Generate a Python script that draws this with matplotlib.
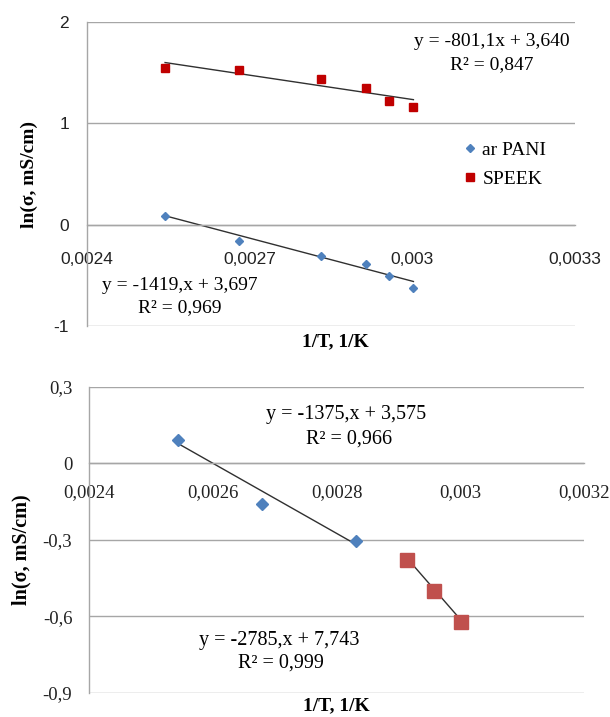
import matplotlib
matplotlib.use("Agg")
import matplotlib.pyplot as plt
import numpy as np

# Reciprocal temperature, 1/K (120, 100, 80, 70, 65, 60 °C)
inv_T = [0.002544, 0.00268, 0.002832, 0.002914, 0.002957, 0.003002]

# ln(conductivity), mS/cm
pani_ln = [0.087, -0.165, -0.313, -0.386, -0.505, -0.627]
speek_ln = [1.546, 1.526, 1.437, 1.355, 1.220, 1.167]

# Linear trend lines (slope, intercept, R²) for the upper panel
speek_fit = (-801.1, 3.640, 0.847)
pani_fit = (-1419.0, 3.697, 0.969)

# Lower panel: ar PANI split into a high-temperature and a low-temperature branch
hot_x = [0.002544, 0.00268, 0.002832]
hot_ln = [0.091, -0.161, -0.305]
cool_x = [0.002914, 0.002957, 0.003002]
cool_ln = [-0.380, -0.503, -0.622]
hot_fit = (-1375.0, 3.575, 0.966)
cool_fit = (-2785.0, 7.743, 0.999)

top_xticks = [0.0024, 0.0027, 0.003, 0.0033]
top_xtick_labels = ["0,0024", "0,0027", "0,003", "0,0033"]
top_yticks = [-1, 0, 1, 2]
top_ytick_labels = ["-1", "0", "1", "2"]
bot_xticks = [0.0024, 0.0026, 0.0028, 0.003, 0.0032]
bot_xtick_labels = ["0,0024", "0,0026", "0,0028", "0,003", "0,0032"]
bot_yticks = [-0.9, -0.6, -0.3, 0.0, 0.3]
bot_ytick_labels = ["-0,9", "-0,6", "-0,3", "0", "0,3"]

W, H = 610, 717
BLUE = "#4F81BD"
RED_DARK = "#C00000"
RED = "#C0504D"
GRID = "#A6A6A6"
TREND = "#303030"
SERIF = "Liberation Serif"
SANS = "Liberation Sans"

fig = plt.figure(figsize=(W / 100, H / 100), dpi=100)
fig.patch.set_facecolor("white")


def px_axes(left, top, right, bottom):
    return fig.add_axes([left / W, 1 - bottom / H, (right - left) / W, (bottom - top) / H])


def style_axes(ax, xlim, ylim, xticks, xlabels, yticks, ylabels, font, fsize, xpad, ypad):
    ax.set_xlim(*xlim)
    ax.set_ylim(*ylim)
    for side in ("top", "right"):
        ax.spines[side].set_visible(False)
    ax.spines["left"].set_color(GRID)
    ax.spines["left"].set_linewidth(1.0)
    ax.spines["bottom"].set_position(("data", 0))
    ax.spines["bottom"].set_color(GRID)
    ax.spines["bottom"].set_linewidth(1.0)
    ax.set_yticks(yticks)
    ax.set_yticklabels(ylabels, family=font, fontsize=fsize, color="#222222")
    ax.set_xticks(xticks)
    ax.set_xticklabels(xlabels, family=font, fontsize=fsize, color="#222222")
    ax.tick_params(axis="both", length=0)
    ax.tick_params(axis="x", pad=xpad)
    ax.tick_params(axis="y", pad=ypad)
    ax.yaxis.grid(True, color=GRID, linewidth=1.0)
    ax.set_axisbelow(True)


def trend(ax, xs, fit):
    slope, intercept, _ = fit
    x = np.array([min(xs), max(xs)])
    ax.plot(x, slope * x + intercept, color=TREND, linewidth=1.0, zorder=2)


def fit_text(slope, intercept, r2, style):
    s = f"{slope:.1f}".replace(".", ",") if style == "x1" else f"{slope:.0f},"
    eq = f"y = {s}x + {intercept:.3f}".replace(".", ",")
    return eq, f"R² = {r2:.3f}".replace(".", ",")


def fig_text(x, y, s, size, **kw):
    fig.text(x / W, 1 - y / H, s, ha="center", va="center", family=SERIF,
             fontsize=size, **kw)


# ---------------- upper panel ----------------
ax1 = px_axes(87, 22.3, 575, 325.7)
style_axes(ax1, (0.0024, 0.0033), (-1, 2), top_xticks, top_xtick_labels,
           top_yticks, top_ytick_labels, SANS, 12.5, 20, 13)

trend(ax1, inv_T, speek_fit)
trend(ax1, inv_T, pani_fit)
h_pani, = ax1.plot(inv_T, pani_ln, linestyle="none", marker="D", markersize=3.6,
                   color=BLUE, zorder=3, label="ar PANI")
h_speek, = ax1.plot(inv_T, speek_ln, linestyle="none", marker="s", markersize=6.2,
                    color=RED_DARK, zorder=3, label="SPEEK")

eq, r2 = fit_text(*speek_fit, "x1")
fig_text(492, 42, eq, 14)
fig_text(492, 65, r2, 14)
eq, r2 = fit_text(*pani_fit, "int")
fig_text(180, 285, eq, 14)
fig_text(180, 308, r2, 14)

ax1.legend(handles=[h_pani, h_speek], loc="upper left",
           bbox_to_anchor=(463 / W, 1 - 141 / H), bbox_transform=fig.transFigure,
           frameon=False, borderpad=0, borderaxespad=0, handlelength=0.7,
           handletextpad=0.3, labelspacing=0.6,
           prop={"family": SERIF, "size": 14})

fig_text(29.5, 174, "ln(σ, mS/cm)", 14, rotation=90, fontweight="bold")
fig_text(335, 342, "1/T, 1/K", 14, fontweight="bold")

# ---------------- lower panel ----------------
ax2 = px_axes(89, 386.7, 584, 692.7)
style_axes(ax2, (0.0024, 0.0032), (-0.9, 0.3), bot_xticks, bot_xtick_labels,
           bot_yticks, bot_ytick_labels, SERIF, 13.5, 15, 12)

trend(ax2, hot_x, hot_fit)
trend(ax2, cool_x, cool_fit)
ax2.plot(hot_x, hot_ln, linestyle="none", marker="D", markersize=6.2,
         color=BLUE, zorder=3)
ax2.plot(cool_x, cool_ln, linestyle="none", marker="s", markersize=10,
         color=RED, zorder=3)

eq, r2 = fit_text(*hot_fit, "int")
fig_text(346, 415, eq, 14.5)
fig_text(349, 439, r2, 14.5)
eq, r2 = fit_text(*cool_fit, "int")
fig_text(279, 640, eq, 14.5)
fig_text(281, 663, r2, 14.5)

fig_text(21, 550, "ln(σ, mS/cm)", 14.5, rotation=90, fontweight="bold")
fig_text(336, 706, "1/T, 1/K", 14, fontweight="bold")

fig.savefig("out.png", dpi=100, facecolor="white")
